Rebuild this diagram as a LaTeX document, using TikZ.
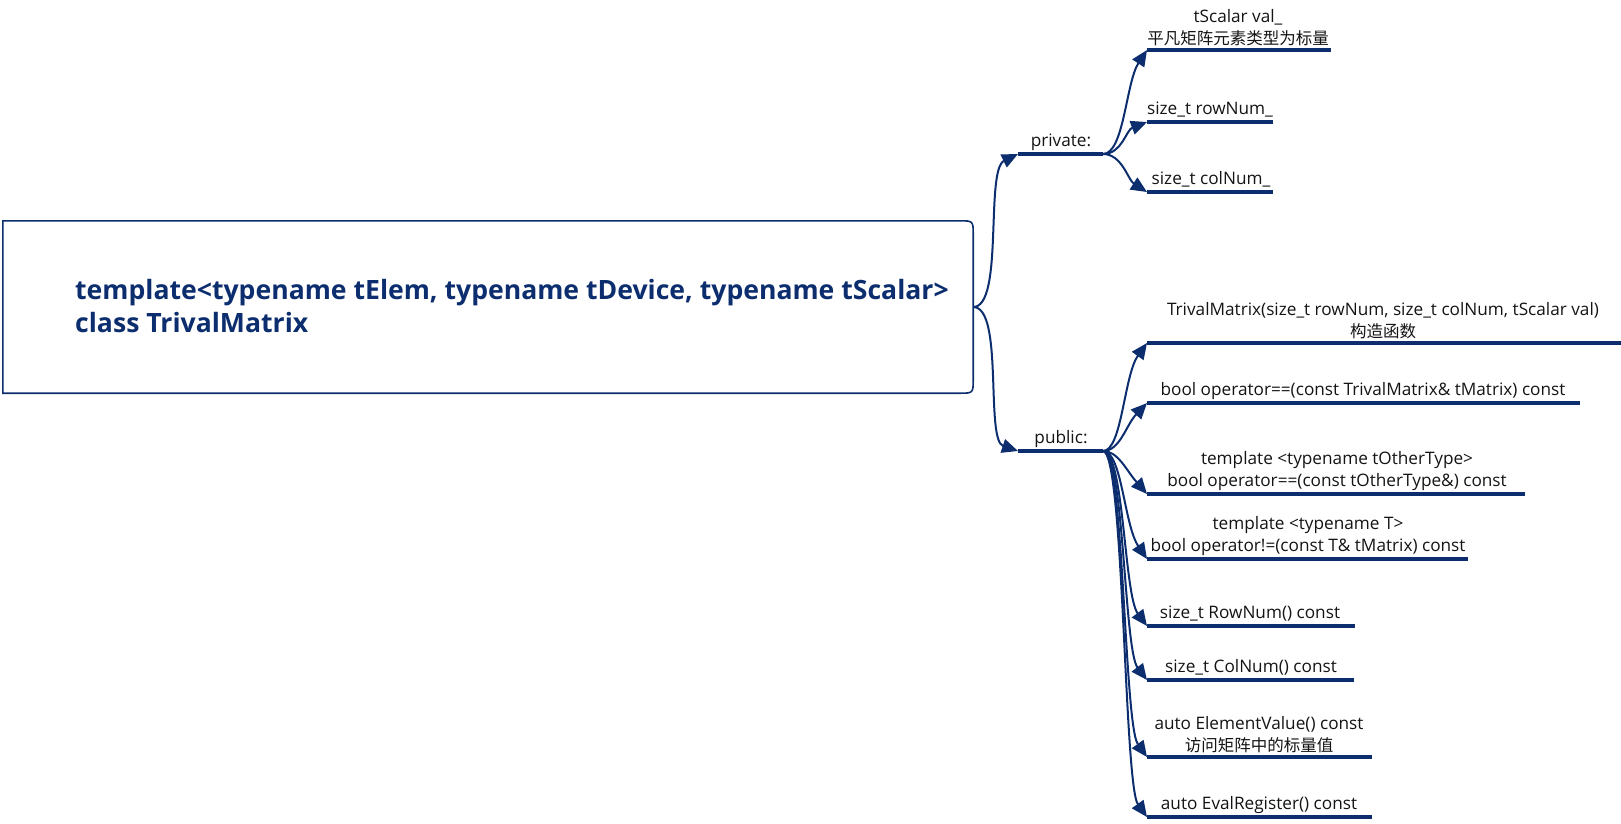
\documentclass[tikz,border=0pt]{standalone}
\usepackage{fontspec}
\setmainfont{Open Sans}
\newfontfamily\cjk{Noto Sans CJK SC}
\usetikzlibrary{arrows.meta}
\definecolor{mblue}{HTML}{0C2E6E}
\definecolor{ink}{HTML}{141414}
\newcommand{\zh}[1]{{\cjk\fontsize{16.5}{22}\selectfont #1}}
\tikzset{
  conn/.style={draw=mblue, line width=2pt, -{Triangle[length=16pt,width=14pt]}},
  uline/.style={draw=mblue, line width=4.8pt},
  lbl/.style={inner sep=0pt, anchor=south, text depth=0pt, align=center, text=ink,
     font=\fontsize{17.2}{22}\selectfont},
  rootbox/.style={minimum width=970pt, minimum height=172pt, inner sep=0pt},
  rootline/.style={draw=mblue, line width=1.6pt},
  roottext/.style={inner sep=0pt, anchor=south west, text depth=0pt, align=left, text=mblue,
     font=\fontsize{26.6}{33}\selectfont\bfseries}
}
\begin{document}
\begin{tikzpicture}[x=1pt,y=-1pt]
\useasboundingbox (0,0) rectangle (1621,823);
% root
\node[rootbox] (root) at (488,307) {};
\draw[rootline] (root.south west) -- (root.north west) -- ([xshift=-14pt]root.north east)
  .. controls (root.north east) .. ([yshift=-14pt]root.north east)
  -- ([yshift=14pt]root.south east)
  .. controls (root.south east) .. ([xshift=-14pt]root.south east) -- cycle;
\node[roottext] (rootlbl) at (75,333) {template<typename tElem, typename tDevice, typename tScalar>\\class TrivalMatrix};
% private / public
\coordinate (privS) at (1018,154); \coordinate (privE) at (1103,154);
\coordinate (pubS) at (1018,451); \coordinate (pubE) at (1103,451);
\draw[uline] (privS) -- (privE);
\draw[uline] (pubS) -- (pubE);
\node[lbl] (priv) at (1061,147) {private:};
\node[lbl] (pub) at (1061,444) {public:};
\draw[conn] (root.east) .. controls (1004,307) and (985,170) .. (privS);
\draw[conn] (root.east) .. controls (1004,307) and (985,440) .. (pubS);
% private children
\foreach \n/\y/\e in {ts/50/1331, rn/122/1273, cn/192/1273}{
  \coordinate (\n S) at (1147,\y); \coordinate (\n E) at (\e,\y);
  \draw[uline] (\n S) -- (\n E);
}
\node[lbl] (ts) at (1238,45) {tScalar val\_\\\zh{平凡矩阵元素类型为标量}};
\node[lbl] (rn) at (1210,115) {size\_t rowNum\_};
\node[lbl] (cn) at (1211,185) {size\_t colNum\_};
\draw[conn] (privE) .. controls (1124,154) and (1126,82) .. (tsS);
\draw[conn] (privE) .. controls (1122,154) and (1126,130) .. (rnS);
\draw[conn] (privE) .. controls (1122,154) and (1128,180) .. (cnS);
% public children
\foreach \n/\y/\e in {ct/343/1621, eq/403/1580, eo/494/1525, ne/559/1468, rf/626/1355, cf/680/1354, ev/757/1372, er/817/1372}{
  \coordinate (\n S) at (1147,\y); \coordinate (\n E) at (\e,\y);
  \draw[uline] (\n S) -- (\n E);
}
\node[lbl] (ct) at (1383,338) {TrivalMatrix(size\_t rowNum, size\_t colNum, tScalar val)\\\zh{构造函数}};
\node[lbl] (eq) at (1363,396) {bool operator==(const TrivalMatrix\& tMatrix) const};
\node[lbl] (eo) at (1337,487) {template <typename tOtherType>\\bool operator==(const tOtherType\&) const};
\node[lbl] (ne) at (1308,552) {template <typename T>\\bool operator!=(const T\& tMatrix) const};
\node[lbl] (rf) at (1250,619) {size\_t RowNum() const};
\node[lbl] (cf) at (1251,673) {size\_t ColNum() const};
\node[lbl] (ev) at (1259,752) {auto ElementValue() const\\\zh{访问矩阵中的标量值}};
\node[lbl] (er) at (1259,810) {auto EvalRegister() const};
\draw[conn] (pubE) .. controls (1122,451) and (1124,375) .. (ctS);
\draw[conn] (pubE) .. controls (1120,451) and (1126,425) .. (eqS);
\draw[conn] (pubE) .. controls (1118,451) and (1126,470) .. (eoS);
\draw[conn] (pubE) .. controls (1122,451) and (1124,525) .. (neS);
\draw[conn] (pubE) .. controls (1124,451) and (1124,595) .. (rfS);
\draw[conn] (pubE) .. controls (1124,451) and (1124,650) .. (cfS);
\draw[conn] (pubE) .. controls (1124,451) and (1124,725) .. (evS);
\draw[conn] (pubE) .. controls (1124,451) and (1124,785) .. (erS);
\end{tikzpicture}
\end{document}
